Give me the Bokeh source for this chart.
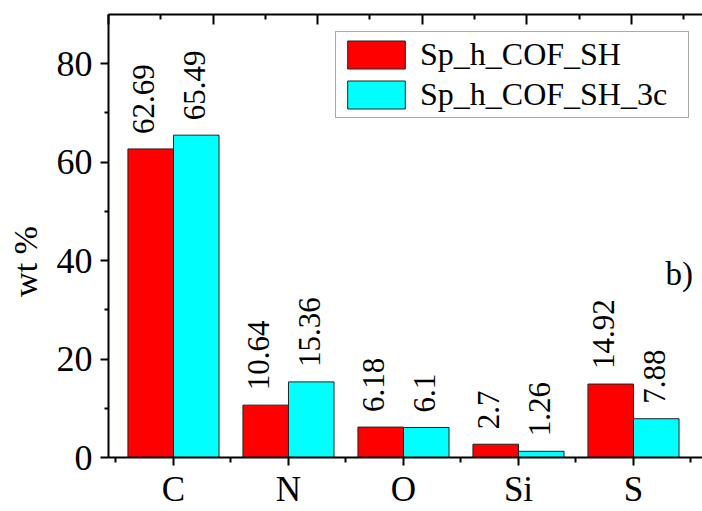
import numpy as np
from bokeh.plotting import figure
from bokeh.models import (ColumnDataSource, Range1d, LinearAxis, FixedTicker,
                          Label, Legend, LegendItem)
from bokeh.core.properties import value
from bokeh.embed import file_html
from bokeh.resources import INLINE

# Elemental composition (wt %) of the two samples
elements = ["C", "N", "O", "Si", "S"]
sp_h_cof_sh = [62.69, 10.64, 6.18, 2.7, 14.92]
sp_h_cof_sh_3c = [65.49, 15.36, 6.1, 1.26, 7.88]
series_names = ["Sp_h_COF_SH", "Sp_h_COF_SH_3c"]
series_colors = ["#FF0000", "#00FFFF"]
y_ticks = [0, 20, 40, 60, 80]
y_minor_ticks = [10, 30, 50, 70]

FONT = "Liberation Serif"
BAR_W = 0.396

pos = np.arange(1, len(elements) + 1, dtype=float)

p = figure(width=702, height=511, output_backend="svg", toolbar_location=None,
           x_range=Range1d(0.435, 5.6), y_range=Range1d(0, 90),
           x_axis_type=None, y_axis_type=None,
           min_border_left=108, min_border_right=0, min_border_top=14,
           min_border_bottom=49)
p.outline_line_color = None
p.background_fill_color = "white"
p.border_fill_color = "white"

# bottom axis: categories at integer positions, minor ticks between them
xax = LinearAxis(ticker=FixedTicker(ticks=list(pos),
                                    minor_ticks=list(pos - 0.5) + [pos[-1] + 0.5]))
xax.major_label_overrides = {float(x): e for x, e in zip(pos, elements)}
xax.axis_line_width = 2
xax.major_tick_line_width = 2
xax.minor_tick_line_width = 2
xax.major_tick_in = 0
xax.major_tick_out = 8
xax.minor_tick_in = 0
xax.minor_tick_out = 5
xax.major_label_text_font = FONT
xax.major_label_text_font_size = "35px"
xax.major_label_text_color = "black"
xax.major_label_standoff = 4
p.add_layout(xax, "below")

# left axis; the padded title sits a little below the frame's middle
yax = LinearAxis(ticker=FixedTicker(ticks=y_ticks, minor_ticks=y_minor_ticks),
                 axis_label="wt %" + "\u00a0" * 6)
yax.axis_line_width = 2
yax.major_tick_line_width = 2
yax.minor_tick_line_width = 2
yax.major_tick_in = 0
yax.major_tick_out = 8
yax.minor_tick_in = 0
yax.minor_tick_out = 4
yax.major_label_text_font = FONT
yax.major_label_text_font_size = "36px"
yax.major_label_text_color = "black"
yax.major_label_standoff = 8
yax.axis_label_text_font = FONT
yax.axis_label_text_font_size = "34px"
yax.axis_label_text_font_style = "normal"
yax.axis_label_text_color = "black"
yax.axis_label_standoff = 10
p.add_layout(yax, "left")

# top frame axis with inward ticks on its own scale, no labels
top_ticks = np.arange(0, 6)
p.extra_x_ranges = {"top": Range1d(0, 5.68)}
tax = LinearAxis(x_range_name="top",
                 ticker=FixedTicker(ticks=list(top_ticks),
                                    minor_ticks=list(top_ticks + 0.5)))
tax.major_label_overrides = {int(t): "" for t in top_ticks}
tax.axis_line_width = 2
tax.major_tick_line_width = 2
tax.minor_tick_line_width = 2
tax.major_tick_in = 10
tax.major_tick_out = 0
tax.minor_tick_in = 5
tax.minor_tick_out = 0
tax.major_label_standoff = 0
p.add_layout(tax, "above")

p.xgrid.visible = False
p.ygrid.visible = False

renderers = []
for k, (vals, color) in enumerate(zip([sp_h_cof_sh, sp_h_cof_sh_3c], series_colors)):
    shift = (k - 0.5) * BAR_W
    src = ColumnDataSource(dict(x=pos + shift, top=vals,
                                label=[str(v) for v in vals]))
    r = p.vbar(x="x", top="top", bottom=0, width=BAR_W, source=src,
               fill_color=color, line_color="#222222", line_width=1)
    renderers.append(r)
    p.text(x="x", y="top", text="label", source=src, angle=np.pi / 2,
           text_align="left", text_baseline="middle",
           x_offset=-7 if k == 0 else -2, y_offset=-15,
           text_font=value(FONT), text_font_size="31px", text_color="black")

legend = Legend(items=[LegendItem(label=n, renderers=[r])
                       for n, r in zip(series_names, renderers)],
                location=(227, 339), margin=0, padding=4, spacing=3,
                glyph_width=72, glyph_height=35, label_height=35,
                label_width=264, label_standoff=8,
                label_text_font=FONT, label_text_font_size="32px",
                label_text_color="black",
                border_line_color="#555555", border_line_width=1,
                background_fill_color="white", background_fill_alpha=1)
p.add_layout(legend)

# panel tag
p.add_layout(Label(x=557, y=184, x_units="screen", y_units="screen",
                   text="b)", text_align="left", text_baseline="alphabetic",
                   text_font=FONT, text_font_size="33px", text_color="black"))

open("out.html", "w").write(file_html(p, INLINE))
